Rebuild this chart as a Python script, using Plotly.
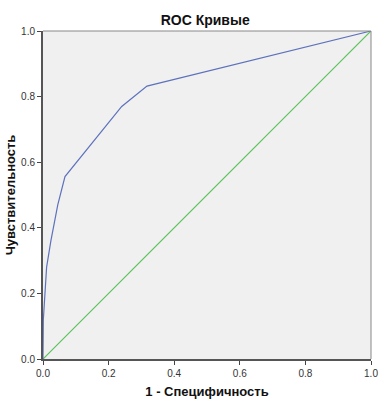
import plotly.graph_objects as go

fpr = [0.0, 0.001, 0.011, 0.024, 0.045, 0.067, 0.24, 0.317, 1.0]
tpr = [0.0, 0.12, 0.28, 0.36, 0.47, 0.556, 0.77, 0.832, 1.0]
ref = [0.0, 1.0]
ticks = [0.0, 0.2, 0.4, 0.6, 0.8, 1.0]
tick_text = ["0.0", "0.2", "0.4", "0.6", "0.8", "1.0"]

fig = go.Figure()
fig.add_trace(go.Scatter(x=ref, y=ref, mode="lines",
                         line=dict(color="#5cc15c", width=1.2), showlegend=False))
fig.add_trace(go.Scatter(x=fpr, y=tpr, mode="lines",
                         line=dict(color="#5d72bd", width=1.2), showlegend=False))

font = "Liberation Sans, Arial, sans-serif"
axis_common = dict(range=[0, 1], tickvals=ticks, ticktext=tick_text,
                   ticks="outside", ticklen=4, tickwidth=1, tickcolor="#444",
                   showgrid=False, zeroline=False, showline=True,
                   linecolor="#555", linewidth=2,
                   tickfont=dict(family=font, size=10, color="#333"),
                   mirror=False, fixedrange=True, automargin=False)

fig.update_layout(
    width=380, height=399,
    margin=dict(l=43, r=9, t=31, b=40),
    paper_bgcolor="white", plot_bgcolor="#f0f0f0",
    title=dict(text="<b>ROC Кривые</b>", x=0.54, xanchor="center", y=0.949, yanchor="middle",
               font=dict(family=font, size=14, color="#111"), automargin=False),
    xaxis=dict(**axis_common,
               title=dict(text="<b>1 - Специфичность</b>", standoff=10,
                          font=dict(family=font, size=13, color="#111"))),
    yaxis=dict(**axis_common,
               title=dict(text="<b>Чувствительность</b>", standoff=3,
                          font=dict(family=font, size=13, color="#111"))),
    shapes=[
        dict(type="line", xref="paper", yref="paper", x0=0, x1=1, y0=1, y1=1,
             line=dict(color="#888", width=1)),
        dict(type="line", xref="paper", yref="paper", x0=1, x1=1, y0=0, y1=1,
             line=dict(color="#888", width=1)),
    ],
)
fig.write_html("out.html")
